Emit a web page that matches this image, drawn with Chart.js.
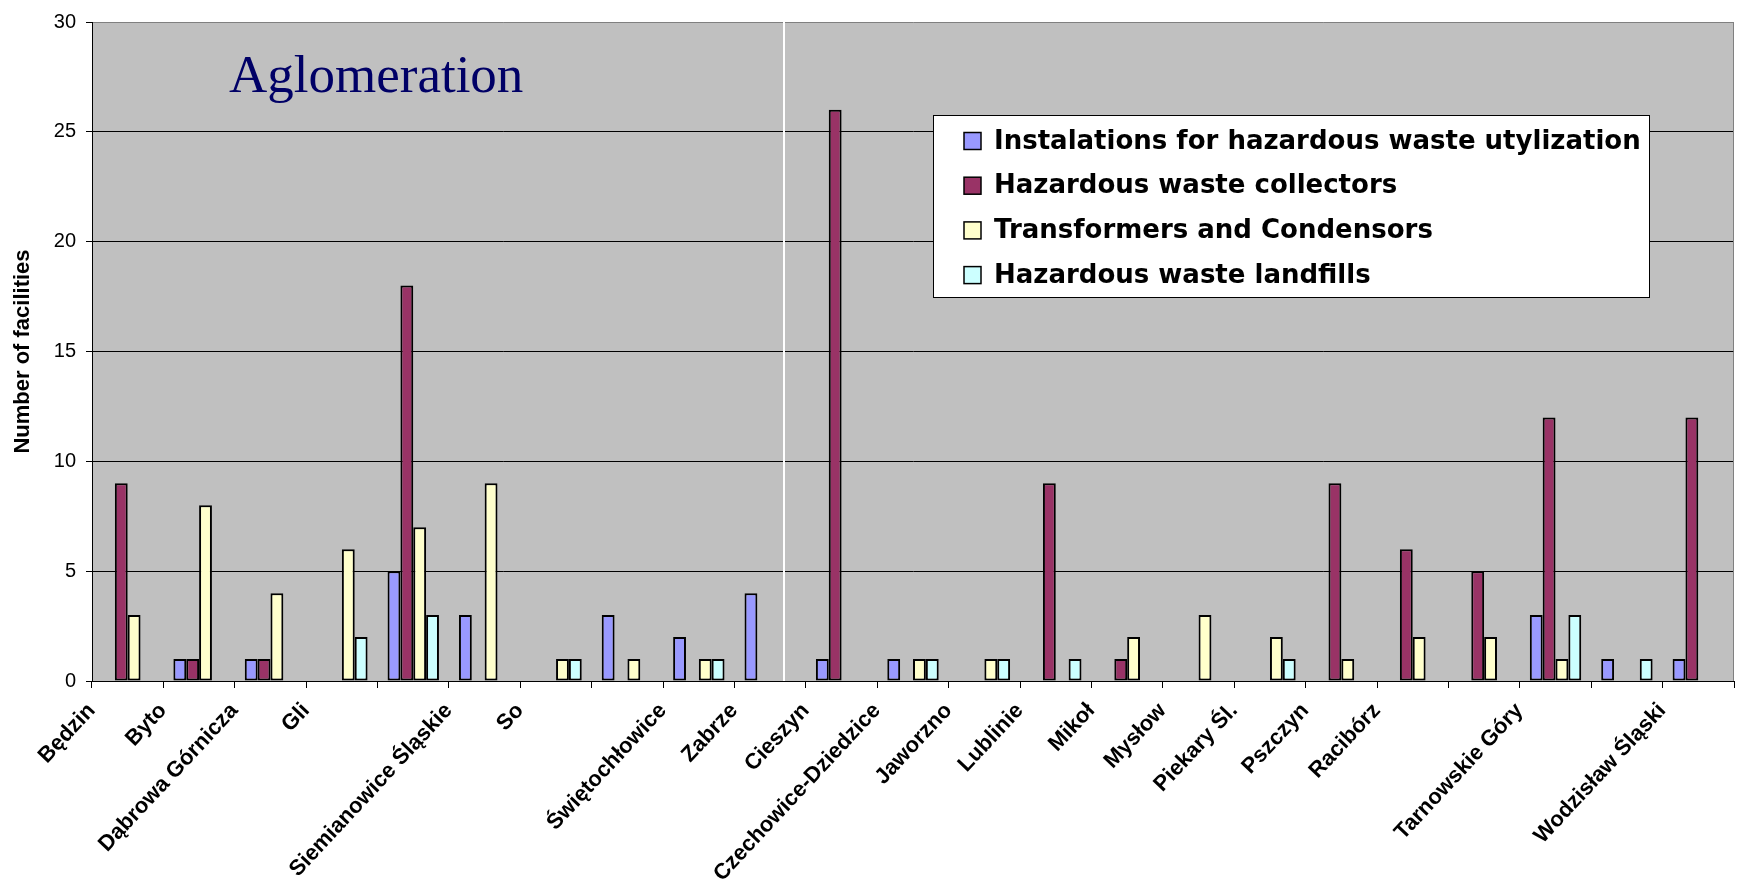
<!DOCTYPE html>
<html>
<head>
<meta charset="utf-8">
<title>Hazardous waste facilities</title>
<script src="https://cdn.jsdelivr.net/npm/chart.js@4/dist/chart.umd.min.js"></script>
<style>
  html, body { margin: 0; padding: 0; background: #ffffff; }
  #wrap { width: 1738px; height: 889px; }
</style>
</head>
<body>
<div id="wrap"><canvas id="chart" width="1738" height="889"></canvas></div>
<script>
// Tick labels under each town (some names are partly covered in the layout)
const tickLabels = [
  'Będzin', 'Byto', 'Dąbrowa Górnicza', 'Gli', '', 'Siemianowice Śląskie', 'So', '',
  'Świętochłowice', 'Zabrze', 'Cieszyn', 'Czechowice-Dziedzice', 'Jaworzno', 'Lublinie',
  'Mikoł', 'Mysłow', 'Piekary Śl.', 'Pszczyn', 'Racibórz', '', 'Tarnowskie Góry', '',
  'Wodzisław Śląski'
];

// Number of facilities per town, one array per facility type
const utilization  = [0, 1, 1, 0, 5, 3, 0, 3, 2, 4, 1, 1, 0, 0, 0, 0, 0, 0, 0, 0, 3, 1, 1];
const collectors   = [9, 1, 1, 0, 18, 0, 0, 0, 0, 0, 26, 0, 0, 9, 1, 0, 0, 9, 6, 5, 12, 0, 12];
const transformers = [3, 8, 4, 6, 7, 9, 1, 1, 1, 0, 0, 1, 1, 0, 2, 3, 2, 1, 2, 2, 1, 0, 0];
const landfills    = [0, 0, 0, 2, 3, 0, 1, 0, 1, 0, 0, 1, 1, 1, 0, 0, 1, 0, 0, 0, 3, 1, 0];

const seriesNames = [
  'Instalations for hazardous waste utylization',
  'Hazardous waste collectors',
  'Transformers and Condensors',
  'Hazardous waste landfills'
];
const seriesColors = ['#9999FF', '#993366', '#FFFFCC', '#CCFFFF'];

const yMin = 0, yMax = 30, yStep = 5;
// the agglomeration towns end just after the 10th category
const regionBoundary = 9.2;
const regionTitle = 'Aglomeration';

const plotDecor = {
  id: 'plotDecor',
  beforeDraw(chart) {
    const { ctx, chartArea: a } = chart;
    ctx.save();
    ctx.fillStyle = '#C0C0C0';
    ctx.fillRect(a.left, a.top, a.right - a.left, a.bottom - a.top);
    ctx.restore();
  },
  beforeDatasetsDraw(chart) {
    const { ctx, chartArea: a, scales } = chart;
    ctx.save();
    // right frame edge
    ctx.strokeStyle = '#808080';
    ctx.lineWidth = 1;
    ctx.beginPath();
    ctx.moveTo(Math.round(a.right) - 0.5, a.top);
    ctx.lineTo(Math.round(a.right) - 0.5, a.bottom);
    ctx.stroke();
    // separator between the agglomeration and the other towns
    const sx = Math.round(scales.x.getPixelForValue(regionBoundary));
    ctx.strokeStyle = '#FFFFFF';
    ctx.lineWidth = 2;
    ctx.beginPath();
    ctx.moveTo(sx, a.top);
    ctx.lineTo(sx, a.bottom);
    ctx.stroke();
    ctx.restore();
  },
  afterDraw(chart) {
    const { ctx, chartArea: a } = chart;
    ctx.save();
    // region caption
    ctx.fillStyle = '#000066';
    ctx.font = '53px "Liberation Serif", "Times New Roman", serif';
    ctx.textBaseline = 'alphabetic';
    ctx.textAlign = 'left';
    ctx.fillText(regionTitle, a.left + 137, a.top + 70);

    // legend box
    const bx = 933, by = 115, bw = 716, bh = 182;
    ctx.fillStyle = '#FFFFFF';
    ctx.fillRect(bx, by, bw, bh);
    ctx.strokeStyle = '#000000';
    ctx.lineWidth = 1;
    ctx.strokeRect(bx + 0.5, by + 0.5, bw, bh);
    ctx.font = 'bold 26px "DejaVu Sans", sans-serif';
    ctx.textBaseline = 'middle';
    chart.data.datasets.forEach((ds, i) => {
      const cy = by + 26 + i * 44.7;
      ctx.fillStyle = ds.backgroundColor;
      ctx.fillRect(964, cy - 8.5, 17, 17);
      ctx.lineWidth = 1.5;
      ctx.strokeStyle = '#000000';
      ctx.strokeRect(964, cy - 8.5, 17, 17);
      ctx.fillStyle = '#000000';
      ctx.fillText(ds.label, 994, cy + 1);
    });
    ctx.restore();
  }
};

const seriesData = [utilization, collectors, transformers, landfills];

new Chart(document.getElementById('chart'), {
  type: 'bar',
  data: {
    labels: tickLabels,
    datasets: seriesNames.map((name, i) => ({
      label: name,
      data: seriesData[i],
      backgroundColor: seriesColors[i],
      borderColor: '#000000',
      borderWidth: 2,
      borderSkipped: false,
      categoryPercentage: 0.72,
      barPercentage: 1.0
    }))
  },
  options: {
    responsive: false,
    animation: false,
    devicePixelRatio: 1,
    layout: { padding: { top: 19, right: 4, left: 0, bottom: 0 } },
    plugins: {
      legend: { display: false },
      tooltip: { enabled: false }
    },
    scales: {
      x: {
        offset: true,
        grid: {
          display: true,
          drawOnChartArea: false,
          drawTicks: true,
          tickLength: 7,
          color: '#000000',
          offset: true
        },
        border: { display: true, color: '#000000', width: 1 },
        ticks: {
          autoSkip: false,
          minRotation: 47,
          maxRotation: 47,
          padding: 10,
          labelOffset: -36,
          color: '#000000',
          font: { family: '"Liberation Sans", Arial, sans-serif', size: 22, weight: 'bold' }
        },
        afterFit(scale) { scale.height = 208; }
      },
      y: {
        min: yMin,
        max: yMax,
        ticks: {
          stepSize: yStep,
          padding: 10,
          color: '#000000',
          font: { family: '"Liberation Sans", Arial, sans-serif', size: 20 }
        },
        grid: {
          color: (c) => (c.tick && c.tick.value === yMax ? '#808080' : '#000000'),
          tickColor: '#000000',
          tickLength: 6,
          lineWidth: 1
        },
        border: { display: true, color: '#000000', width: 1 },
        title: {
          display: true,
          text: 'Number of facilities',
          color: '#000000',
          padding: { top: 10, bottom: 0 },
          font: { family: '"Liberation Sans", Arial, sans-serif', size: 22, weight: 'bold' }
        },
        afterFit(scale) { scale.width = 92; }
      }
    }
  },
  plugins: [plotDecor]
});
</script>
</body>
</html>
